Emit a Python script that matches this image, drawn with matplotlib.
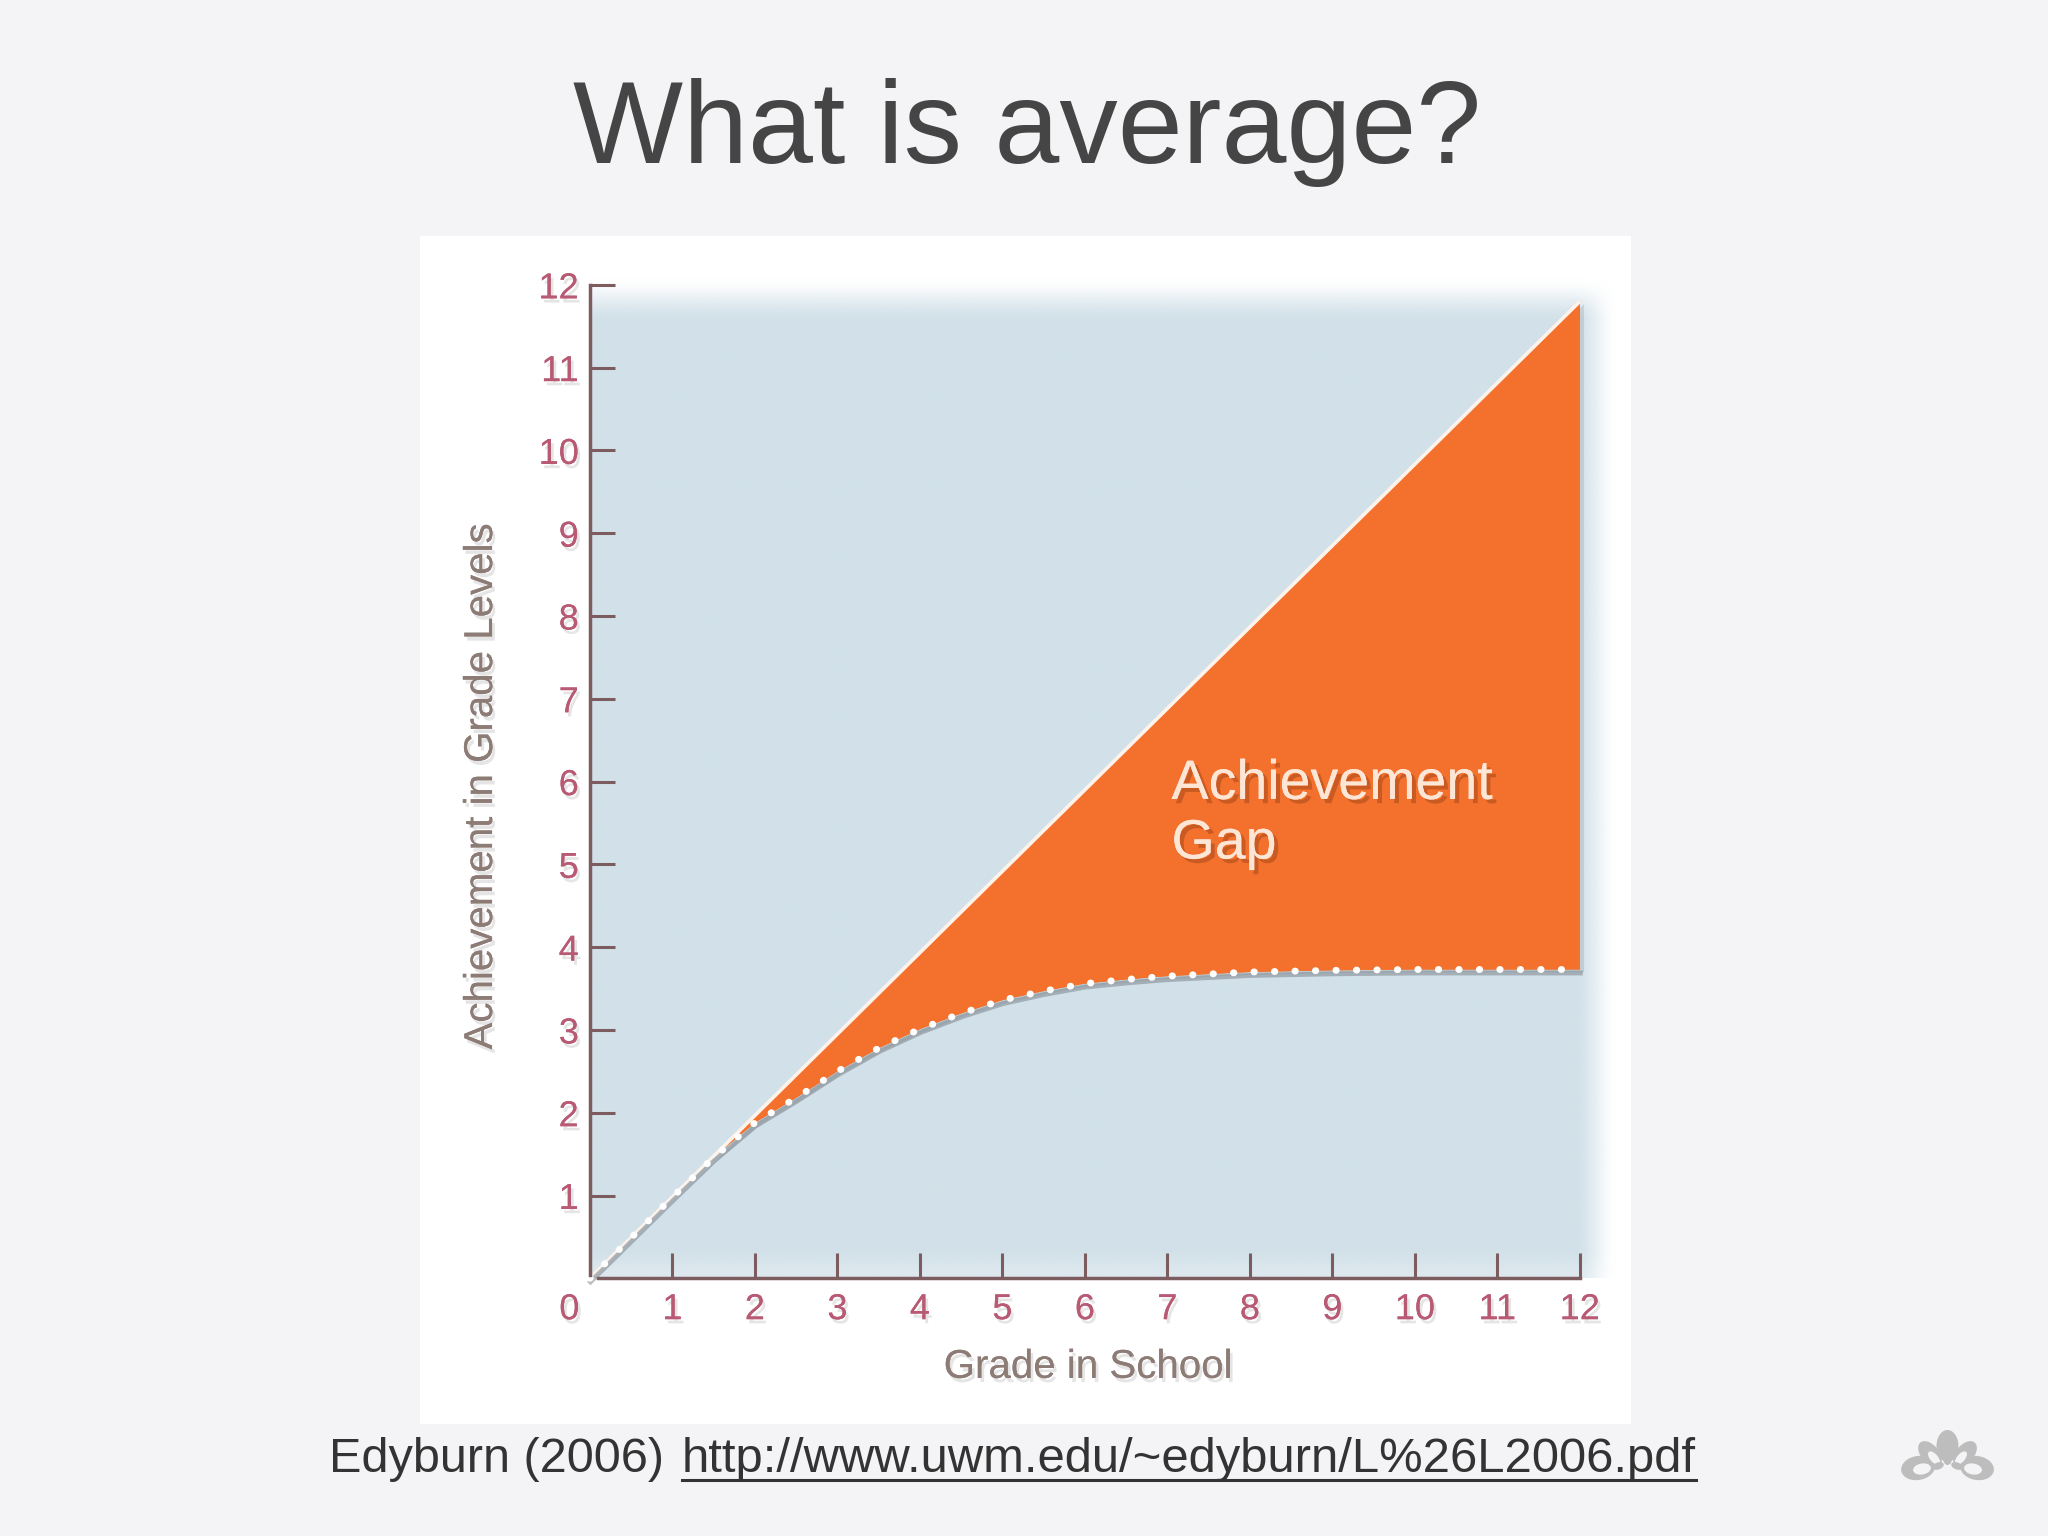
import numpy as np
import matplotlib
matplotlib.use("Agg")
import matplotlib.pyplot as plt
import matplotlib.patheffects as pe
import matplotlib.transforms as mtransforms
from matplotlib.patches import Ellipse

# --- data ---
grade_ticks = [1, 2, 3, 4, 5, 6, 7, 8, 9, 10, 11, 12]
level_ticks = [1, 2, 3, 4, 5, 6, 7, 8, 9, 10, 11, 12]

# expected growth (one grade level per year)
expected_x = [0, 12]
expected_y = [0, 11.8]

# actual achievement of the student (dotted curve)
actual_x = [0, 0.5, 1, 1.5, 2, 2.5, 3, 3.5, 4, 4.5, 5, 5.5, 6, 6.5, 7, 8, 9, 10, 11, 12]
actual_y = [0, 0.49, 0.98, 1.46, 1.88, 2.18, 2.5, 2.78, 3.01, 3.2, 3.36, 3.47, 3.56, 3.61,
            3.65, 3.70, 3.72, 3.73, 3.73, 3.73]

title = "What is average?"
gap_label = ["Achievement", "Gap"]
x_label = "Grade in School"
y_label = "Achievement in Grade Levels"
source = "Edyburn (2006) "
url = "http://www.uwm.edu/~edyburn/L%26L2006.pdf"

# --- colours ---
BG = "#f4f4f6"
BLUE = (210 / 255, 225 / 255, 233 / 255)
ORANGE = "#f4702d"
AXIS = "#7d5c60"
TICKTXT = "#b95a74"
LABTXT = "#8d7b76"

plt.rcParams["font.family"] = ["Liberation Sans", "DejaVu Sans"]

fig = plt.figure(figsize=(20.48, 15.36), dpi=100, facecolor=BG)

# title
fig.text(1027 / 2048, 1 - 163 / 1536, title, fontsize=84, color="#454545",
         ha="center", va="baseline")

# chart picture box (white) with data axes inside
ax = fig.add_axes([420 / 2048, 1 - 1424 / 1536, 1211 / 2048, 1188 / 1536])
ax.set_facecolor("white")

# soft light-blue field behind the chart
def smooth(a, b, v):
    t = np.clip((v - a) / (b - a), 0, 1)
    return t * t * (3 - 2 * t)

gx = np.linspace(0, 12.5, 500)
gy = np.linspace(0, 12.3, 500)
GX, GY = np.meshgrid(gx, gy)
alpha = (1 - smooth(11.95, 12.45, GX)) * (1 - smooth(11.55, 12.1, GY))
alpha *= 0.75 + 0.25 * smooth(0.0, 0.35, GY)
img = np.zeros((len(gy), len(gx), 4))
img[..., 0], img[..., 1], img[..., 2] = BLUE
img[..., 3] = alpha
ax.imshow(img, extent=(0, 12.5, 0, 12.3), origin="lower", aspect="auto",
          interpolation="bilinear", zorder=0)

# achievement gap area
gap_px = np.r_[expected_x, actual_x[::-1]]
gap_py = np.r_[expected_y, actual_y[::-1]]
ax.fill(gap_px, gap_py, color=ORANGE, lw=0, zorder=2,
        path_effects=[pe.withSimplePatchShadow(offset=(3, -2), shadow_rgbFace="#555555", alpha=0.15),
                      pe.Normal()])

# expected line (white edge)
ax.plot(expected_x, expected_y, color="#fdf3ea", lw=2.6, zorder=3, solid_capstyle="butt")

# actual achievement: grey shadow + white dots
shadow_tr = mtransforms.offset_copy(ax.transData, fig=fig, x=0.5, y=-3.5, units="dots")
ax.plot(actual_x, actual_y, color="#7f858e", lw=3.5, alpha=0.55, transform=shadow_tr, zorder=3)
ax.plot(actual_x, actual_y, color="white", lw=5, linestyle=(0, (0.05, 2.9)),
        dash_capstyle="round", zorder=4)

# axes lines and ticks
for s in ["top", "right"]:
    ax.spines[s].set_visible(False)
ax.spines["left"].set_position(("data", 0))
ax.spines["bottom"].set_position(("data", 0))
ax.spines["left"].set_bounds(0.04, 12)
ax.spines["bottom"].set_bounds(0.1, 12)
for s in ["left", "bottom"]:
    ax.spines[s].set_color(AXIS)
    ax.spines[s].set_linewidth(2.5)
    ax.spines[s].set_zorder(5)

ax.set_xticks(grade_ticks)
ax.set_yticks(level_ticks)
ax.tick_params(direction="in", length=18, width=2.2, color=AXIS, labelcolor=TICKTXT,
               labelsize=26)
ax.tick_params(axis="x", pad=10)
ax.tick_params(axis="y", pad=8)
txt_shadow = [pe.withSimplePatchShadow(offset=(2, -3), shadow_rgbFace="#9a9a9a", alpha=0.25),
              pe.Normal()]
for lab in ax.get_xticklabels() + ax.get_yticklabels():
    lab.set_path_effects(txt_shadow)

ax.text(-0.25, -0.38, "0", fontsize=26, color=TICKTXT, ha="center", va="center",
        path_effects=txt_shadow)

ax.set_xlim(-2.06, 12.62)
ax.set_ylim(-1.76, 12.59)

# axis titles
ax.text(6.04, -1.07, x_label, fontsize=29, color=LABTXT, ha="center", va="center",
        path_effects=txt_shadow)
ax.text(-1.32, 5.94, y_label, fontsize=29, color=LABTXT, ha="center", va="center",
        rotation=90, path_effects=txt_shadow)

# label in the gap
gap_fx = [pe.withSimplePatchShadow(offset=(3, -3), shadow_rgbFace="#7a3410", alpha=0.35),
          pe.Normal()]
ax.text(7.05, 5.79, gap_label[0], fontsize=40, color="#fde6d6", ha="left", va="baseline",
        path_effects=gap_fx, zorder=6)
ax.text(7.05, 5.07, gap_label[1], fontsize=40, color="#fde6d6", ha="left", va="baseline",
        path_effects=gap_fx, zorder=6)

# source line with underlined link
fig.text(329 / 2048, 1 - 1472 / 1536, source, fontsize=35, color="#333333",
         ha="left", va="baseline")
url_txt = fig.text(682 / 2048, 1 - 1472 / 1536, url, fontsize=35.3, color="#333333",
                   ha="left", va="baseline")
fig.canvas.draw()
bb = url_txt.get_window_extent()
uy = (1536 - 1480) / 1536
fig.add_artist(plt.Line2D([bb.x0 / 2048, bb.x1 / 2048], [uy, uy], color="#333333", lw=2.2,
                          transform=fig.transFigure))

# small grey flower logo, bottom right
lg = fig.add_axes([1900 / 2048, 1 - 1488 / 1536, 95 / 2048, 62 / 1536])
lg.set_xlim(0, 95)
lg.set_ylim(0, 62)
lg.axis("off")
grey = "#bdbdbd"
for (cx, cy, w, h, ang, col) in [
        (18, 20, 34, 24, 10, grey), (77, 20, 34, 24, -10, grey),
        (30, 34, 18, 30, 40, grey), (65, 34, 18, 30, -40, grey),
        (47.5, 42, 22, 32, 0, grey),
        (22, 19, 18, 11, 10, BG), (73, 19, 18, 11, -10, BG),
        (34, 30, 8, 16, 40, BG), (61, 30, 8, 16, -40, BG),
        (47.5, 30, 9, 14, 0, grey), (38, 22, 12, 7, 20, grey), (57, 22, 12, 7, -20, grey)]:
    lg.add_patch(Ellipse((cx, cy), w, h, angle=ang, color=col, lw=0))

fig.savefig("out.png", dpi=100, facecolor=BG)
